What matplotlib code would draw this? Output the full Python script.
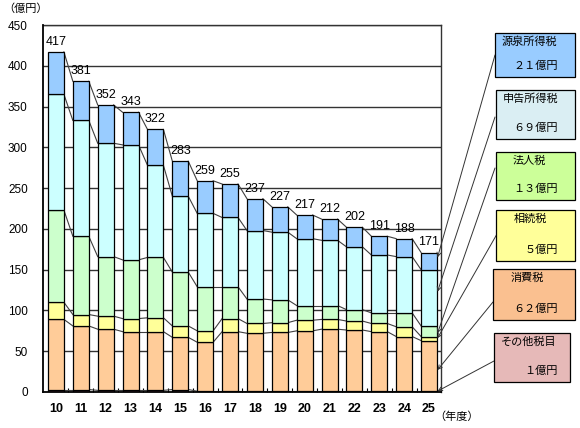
import matplotlib
matplotlib.use("Agg")
import matplotlib.pyplot as plt
from matplotlib.patches import Rectangle
import numpy as np

plt.rcParams['font.family'] = ['Noto Sans CJK JP', 'DejaVu Sans']

years = ['10', '11', '12', '13', '14', '15', '16', '17', '18', '19', '20', '21', '22', '23', '24', '25']
other = [3, 3, 2, 2, 2, 3, 1, 1, 1, 1, 1, 1, 1, 1, 1, 1]
consumption = [86, 78, 75, 72, 72, 64, 60, 73, 71, 72, 74, 76, 75, 73, 67, 62]
inheritance = [21, 14, 16, 16, 17, 14, 14, 16, 12, 12, 13, 12, 11, 10, 12, 5]
corporate = [113, 96, 73, 72, 74, 66, 54, 39, 30, 28, 18, 17, 14, 13, 17, 13]
self_assessed = [142, 142, 139, 141, 113, 93, 90, 85, 84, 83, 82, 80, 77, 71, 69, 69]
withholding = [52, 48, 47, 40, 44, 43, 40, 41, 39, 31, 29, 26, 24, 23, 22, 21]
totals = [417, 381, 352, 343, 322, 283, 259, 255, 237, 227, 217, 212, 202, 191, 188, 171]

series = [other, consumption, inheritance, corporate, self_assessed, withholding]
bar_colors = ['#FF99CC', '#FFCC99', '#FFFF99', '#CCFFCC', '#CCFFFF', '#99CCFF']

legend_names = ['源泉所得税', '申告所得税', '法人税', '相続税', '消費税', 'その他税目']
legend_values = ['２１億円', '６９億円', '１３億円', '５億円', '６２億円', '１億円']
legend_colors = ['#99CCFF', '#DAEEF3', '#CCFF99', '#FFFF99', '#FAC090', '#E6B9B8']

W, H = 580, 428
fig = plt.figure(figsize=(W / 100, H / 100), dpi=100)

def fx(px):
    return px / W

def fy(py):
    return 1 - py / H

ax = fig.add_axes([fx(43), fy(392), fx(441) - fx(43), fy(25) - fy(392)])

x = np.arange(len(years))
bw = 0.64
bottom = np.zeros(len(years))
tops = []
for vals, c in zip(series, bar_colors):
    v = np.array(vals, dtype=float)
    ax.bar(x, v, bottom=bottom, width=bw, color=c, edgecolor='black', linewidth=0.9, zorder=3)
    bottom = bottom + v
    tops.append(bottom.copy())

# connecting lines between bars
for t in tops:
    for i in range(len(x) - 1):
        ax.plot([x[i] + bw / 2, x[i + 1] - bw / 2], [t[i], t[i + 1]],
                color='#404040', linewidth=0.8, zorder=2)

for i, tot in enumerate(totals):
    ax.text(x[i], tot + 5, str(tot), ha='center', va='bottom', fontsize=9,
            family='Liberation Sans', zorder=4)

ax.set_xlim(-0.52, 15.48)
ax.set_ylim(0, 450)
ax.set_yticks(np.arange(0, 451, 50))
ax.set_yticklabels([str(v) for v in range(0, 451, 50)], family='Liberation Sans', fontsize=8.5)
ax.set_xticks(x)
ax.set_xticklabels(years, family='Liberation Sans', fontsize=9, fontweight='bold')
ax.tick_params(axis='x', length=0, pad=8)
ax.tick_params(axis='y', length=0, pad=11)
ax.set_xticks(x[:-1] + 0.5, minor=True)
ax.tick_params(axis='x', which='minor', direction='in', length=3, width=0.8)
for yv in range(50, 451, 50):
    ax.axhline(yv, color='#333333', linewidth=1.0, zorder=1)
for s in ['left', 'bottom']:
    ax.spines[s].set_linewidth(1.3)
    ax.spines[s].set_color('black')
    ax.spines[s].set_zorder(5)
for s in ['right', 'top']:
    ax.spines[s].set_linewidth(1.0)
    ax.spines[s].set_color('#333333')

fig.text(fx(3), fy(9), '（億円）', fontsize=8, ha='left', va='center')
fig.text(fx(434), fy(417), '（年度）', fontsize=8, ha='left', va='center')

# legend boxes
boxes = [(495, 33, 575, 77), (496, 90, 575, 139), (496, 152, 575, 200),
         (496, 210, 575, 261), (493, 269, 575, 320), (494, 333, 570, 382)]
name_x = [502, 503, 513, 514, 511, 501]
starts = [(495, 55), (495, 117), (495, 168), (497, 234), (493, 302), (494, 361)]
targets = [165, 123, 72, 66, 27, 1]

for (x0, y0, x1, y1), name, val, col, nx in zip(boxes, legend_names, legend_values, legend_colors, name_x):
    fig.add_artist(Rectangle((fx(x0), fy(y1)), fx(x1) - fx(x0), fy(y0) - fy(y1),
                             facecolor=col, edgecolor='black', linewidth=0.9,
                             transform=fig.transFigure))
    fig.text(fx(nx), fy(y0 + 9), name, fontsize=8, ha='left', va='center')
    fig.text(fx(558), fy(y1 - 11), val, fontsize=8, ha='right', va='center')

for (sx, sy), ty in zip(starts, targets):
    ax.annotate('', xy=(x[-1] + bw / 2 + 0.02, ty), xycoords='data',
                xytext=(fx(sx), fy(sy)), textcoords='figure fraction',
                arrowprops=dict(arrowstyle='->', color='#333333', lw=0.7,
                                shrinkA=0, shrinkB=0, mutation_scale=7),
                annotation_clip=False)

fig.savefig('out.png', dpi=100)
